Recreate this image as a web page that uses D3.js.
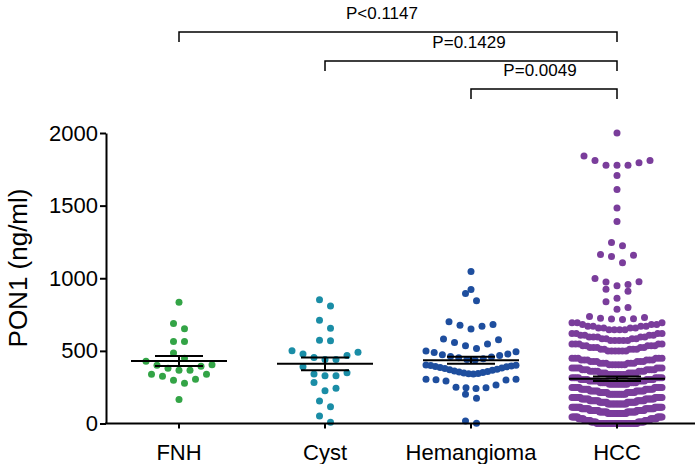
<!DOCTYPE html>
<html>
<head>
<meta charset="utf-8">
<script src="https://cdn.jsdelivr.net/npm/d3@7"></script>
<style>
  body { margin: 0; background: #fff; }
  svg { display: block; }
</style>
</head>
<body>
<div id="chart"></div>
<script>
// ---- data ----
const categories = ["FNH", "Cyst", "Hemangioma", "HCC"];
const yTicks = [0, 500, 1000, 1500, 2000];

const fnhValues = [165, 277, 298, 304, 325, 339, 339, 366, 366, 380, 394, 401, 405, 428,
    449, 486, 564, 564, 653, 689, 834];

const cystValues = [8, 52, 116, 155, 226, 242, 283, 329, 329, 340, 349, 391, 441, 441, 455,
    469, 478, 490, 501, 569, 574, 655, 710, 809, 852];

const hemangiomaValues = [1, 17, 173, 201, 241, 246, 246, 249, 265, 292, 299, 302, 304, 305,
    340, 342, 345, 348, 351, 355, 358, 362, 366, 370, 374, 378, 382, 386, 390, 393, 396, 399, 401, 403,
    437, 440, 445, 452, 458, 462, 468, 473, 478, 488, 494, 500,
    517, 535, 547, 558, 576, 581, 650, 670, 677, 682, 700, 845, 895, 923, 1047];

// HCC: the separate dots above the dense part
const hccValues = [2000, 1842, 1810, 1810, 1796, 1778, 1778, 1778, 1708, 1611, 1484, 1391,
    1246, 1223, 1164, 1159, 1150, 1106, 998, 976, 974, 957, 948, 925, 911, 862, 838, 799, 787,
    737, 729, 725, 722, 719, 716];
// HCC: dense rows, [value, number of dots at that value]
const hccDenseCounts = [
    [0, 36], [10, 11], [20, 11], [32, 11], [45, 11],
    [68, 16], [79, 15], [90, 15], [101, 15], [112, 15],
    [135, 14], [146, 13], [157, 13], [168, 13], [179, 13],
    [202, 10], [213, 10], [224, 10], [235, 10], [247, 10],
    [270, 9], [281, 8], [292, 9], [303, 8], [315, 8],
    [337, 8], [348, 7], [359, 7], [370, 7], [382, 7],
    [404, 6], [415, 6], [426, 6], [437, 6], [449, 6],
    [500, 6], [512, 5], [523, 5], [535, 5], [547, 5],
    [572, 5], [584, 4], [596, 5], [608, 4], [620, 4],
    [646, 4], [658, 4], [670, 4], [682, 3], [694, 3]
];

const comparisons = [
    ["FNH", "HCC", "P<0.1147"],
    ["Cyst", "HCC", "P=0.1429"],
    ["Hemangioma", "HCC", "P=0.0049"]
];

// ---- styling / layout ----
const colors = ["#33a446", "#1a8da6", "#1e4e9e", "#7a3d9b"];
const font = "'Liberation Sans', Arial, Helvetica, sans-serif";
const dotR = 3.5, rowPx = 9.6, maxStep = 11, rowWidth = 90;
const bracketY = [32, 61, 89], bracketDrop = 10, labelShift = [-16, -2, -4];

const width = 695, height = 464;

const svg = d3.select("#chart")
    .append("svg")
    .attr("width", width)
    .attr("height", height);

const y = d3.scaleLinear().domain([0, 2000]).range([423.5, 133]);
const x = d3.scaleBand().domain(categories).range([106, 690]);
const cx = c => x(c) + x.bandwidth() / 2;

const hccAll = hccValues.concat(hccDenseCounts.flatMap(([v, n]) => d3.range(n).map(() => v)));
const groups = [fnhValues, cystValues, hemangiomaValues, hccAll];

// rows of dots: points close in y share a row, lowest in the middle
function layout(values, center) {
    const sorted = values.slice().sort(d3.ascending);
    const rows = [];
    let cur = null;
    sorted.forEach(v => {
        if (!cur || y(cur.start) - y(v) >= rowPx) {
            cur = {start: v, vals: []};
            rows.push(cur);
        }
        cur.vals.push(v);
    });
    const pts = [];
    rows.forEach(r => {
        const n = r.vals.length;
        const step = n > 1 ? Math.min(maxStep, rowWidth / (n - 1)) : 0;
        r.vals.forEach((v, i) => {
            let k;
            if (n % 2 === 1) k = i === 0 ? 0 : (i % 2 === 1 ? (i + 1) / 2 : -i / 2);
            else { const m = Math.floor(i / 2) + 0.5; k = i % 2 === 0 ? m : -m; }
            pts.push({x: center + k * step, y: y(v)});
        });
    });
    return pts;
}

// dots
categories.forEach((c, gi) => {
    svg.append("g")
        .selectAll("circle")
        .data(layout(groups[gi], cx(c)))
        .enter()
        .append("circle")
        .attr("cx", d => d.x)
        .attr("cy", d => d.y)
        .attr("r", dotR)
        .attr("fill", colors[gi]);
});

// mean and SEM
const stats = categories.map((c, gi) => {
    const v = groups[gi];
    return {c: c, mean: d3.mean(v), sem: d3.deviation(v) / Math.sqrt(v.length)};
});
const err = svg.append("g").attr("stroke", "#000").attr("stroke-width", 2);
stats.forEach(s => {
    const m = cx(s.c);
    err.append("line").attr("x1", m - 48).attr("x2", m + 48)
        .attr("y1", y(s.mean)).attr("y2", y(s.mean));
    err.append("line").attr("x1", m - 24).attr("x2", m + 24)
        .attr("y1", y(s.mean + s.sem)).attr("y2", y(s.mean + s.sem));
    err.append("line").attr("x1", m - 24).attr("x2", m + 24)
        .attr("y1", y(s.mean - s.sem)).attr("y2", y(s.mean - s.sem));
    err.append("line").attr("x1", m).attr("x2", m)
        .attr("y1", y(s.mean + s.sem)).attr("y2", y(s.mean - s.sem));
});

// y axis
svg.append("g")
    .attr("transform", "translate(106,0)")
    .call(d3.axisLeft(y).tickValues(yTicks).tickFormat(d3.format("d"))
        .tickSize(6).tickSizeOuter(0).tickPadding(2))
    .attr("font-family", font)
    .attr("font-size", 22)
    .call(g => g.selectAll("path, line").attr("stroke", "#000").attr("stroke-width", 2))
    .call(g => g.selectAll("text").attr("fill", "#000"));

// x axis
svg.append("g")
    .attr("transform", `translate(0,${y(0)})`)
    .call(d3.axisBottom(x).tickSize(5).tickSizeOuter(0).tickPadding(16))
    .attr("font-family", font)
    .attr("font-size", 22)
    .call(g => g.select(".domain").attr("d", `M${x.range()[0] - 1},0H${width}`))
    .call(g => g.selectAll("path, line").attr("stroke", "#000").attr("stroke-width", 2))
    .call(g => g.selectAll("text").attr("fill", "#000"));

// y axis title
svg.append("text")
    .text("PON1 (ng/ml)")
    .attr("transform", "rotate(-90)")
    .attr("x", -268)
    .attr("y", 27)
    .style("text-anchor", "middle")
    .attr("font-family", font)
    .attr("font-size", 26)
    .attr("fill", "#000");

// significance brackets
comparisons.forEach((cmp, i) => {
    const x1 = cx(cmp[0]), x2 = cx(cmp[1]), by = bracketY[i];
    svg.append("path")
        .attr("d", `M${x1},${by + bracketDrop}V${by}H${x2}V${by + bracketDrop}`)
        .attr("fill", "none")
        .attr("stroke", "#000")
        .attr("stroke-width", 1.5);
    svg.append("text")
        .text(cmp[2])
        .attr("x", (x1 + x2) / 2 + labelShift[i])
        .attr("y", by - 13)
        .style("text-anchor", "middle")
        .attr("font-family", font)
        .attr("font-size", 17)
        .attr("fill", "#000");
});
</script>
</body>
</html>
